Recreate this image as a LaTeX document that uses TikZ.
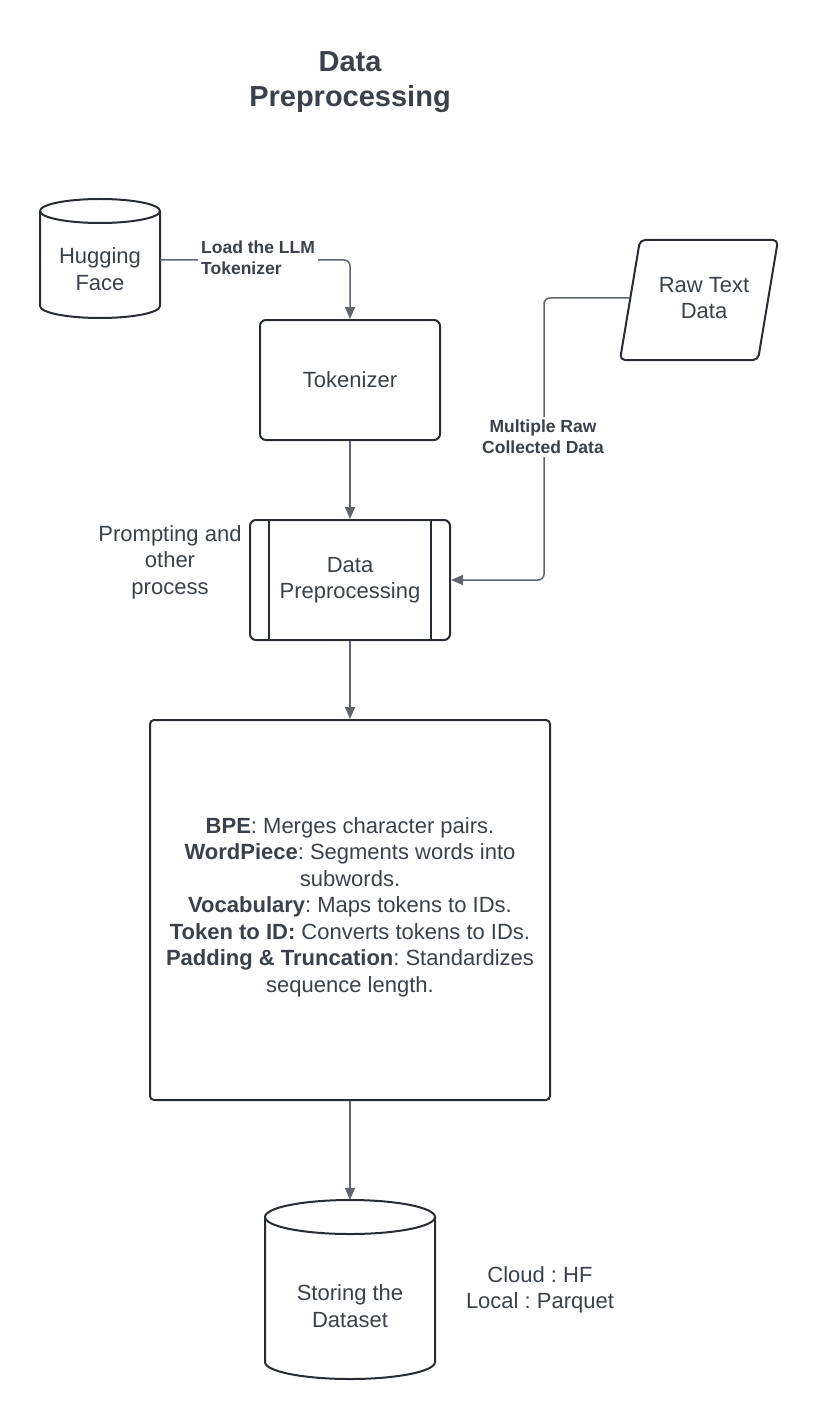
\documentclass[tikz,border=0pt]{standalone}
\usepackage{fontspec}
\setmainfont{Liberation Sans}
\usetikzlibrary{arrows.meta}
\frenchspacing

\definecolor{inkgray}{HTML}{3A414A}
\definecolor{boxgray}{HTML}{282C33}
\definecolor{linegray}{HTML}{5E6470}

\tikzset{
    boxline/.style={draw=boxgray, line width=2pt},
    procbox/.style={boxline, rounded corners=6pt, align=center, text=inkgray,
        font=\fontsize{22}{26.5}\selectfont},
    plaintext/.style={align=center, text=inkgray, font=\fontsize{22}{26.5}\selectfont},
    conn/.style={draw=linegray, line width=1.5pt, rounded corners=6pt,
        -{Triangle[length=12pt, width=10pt]}},
    connlabel/.style={fill=white, inner sep=3pt, text=inkgray,
        font=\bfseries\fontsize{17.5}{21}\selectfont}
}

\begin{document}
\begin{tikzpicture}[x=1pt, y=1pt]

    \useasboundingbox (0,0) rectangle (820,-1420);

    \node[align=center, text=inkgray, font=\bfseries\fontsize{29}{35}\selectfont] (title) at (350,-82) {Data\\Preprocessing};

    % hugging face drum
    \node[plaintext, minimum width=120pt] (hf) at (100,-269) {Hugging\\Face};
    \draw[boxline] (100,-211) ellipse [x radius=60, y radius=12];
    \draw[boxline] (40,-211) -- (40,-306) arc[start angle=180, end angle=360, x radius=60, y radius=12] -- (160,-211);

    \node[procbox, minimum width=180pt, minimum height=120pt] (tok) at (350,-380) {Tokenizer};

    % raw text data
    \draw[boxline, rounded corners=5pt] (640,-240) -- (778,-240) -- (758,-360) -- (620,-360) -- cycle;
    \node[plaintext, minimum width=148pt] (raw) at (704,-298) {Raw Text\\Data};

    \node[procbox, minimum width=200pt, minimum height=120pt] (dp) at (350,-580) {Data\\Preprocessing};
    \draw[boxline] ([xshift=20pt]dp.north west) -- ([xshift=20pt]dp.south west);
    \draw[boxline] ([xshift=-20pt]dp.north east) -- ([xshift=-20pt]dp.south east);

    \node[plaintext] (prompt) at (170,-562) {Prompting and\\other\\process};

    \node[procbox, rounded corners=4pt, minimum width=400pt, minimum height=380pt] (steps) at (350,-910) {\textbf{BPE}: Merges character pairs.\\
        \textbf{WordPiece}: Segments words into\\
        subwords.\\
        \textbf{Vocabulary}: Maps tokens to IDs.\\
        \textbf{Token to ID:} Converts tokens to IDs.\\
        \textbf{Padding \& Truncation}: Standardizes\\
        sequence length.\rule[-10pt]{0pt}{0pt}};

    % storage drum
    \node[plaintext, minimum width=170pt, minimum height=212pt] (store) at (350,-1306) {Storing the\\Dataset};
    \draw[boxline] (350,-1217) ellipse [x radius=85, y radius=17];
    \draw[boxline] (265,-1217) -- (265,-1362) arc[start angle=180, end angle=360, x radius=85, y radius=17] -- (435,-1217);

    \node[plaintext] (note) at (540,-1290) {Cloud : HF\\Local : Parquet};

    % connectors
    \draw[conn] ([yshift=9pt]hf.east) -| (tok.north);
    \node[connlabel, anchor=west, align=left] (loadlbl) at (198,-258) {Load the LLM\\Tokenizer};

    \draw[conn] (raw.west) -| ([xshift=93pt]dp.east) -- (dp.east);
    \node[connlabel, align=center] (rawlbl) at (543,-437) {Multiple Raw\\Collected Data};

    \draw[conn] (tok.south) -- (dp.north);
    \draw[conn] (dp.south) -- (steps.north);
    \draw[conn] (steps.south) -- (store.north);

\end{tikzpicture}
\end{document}
